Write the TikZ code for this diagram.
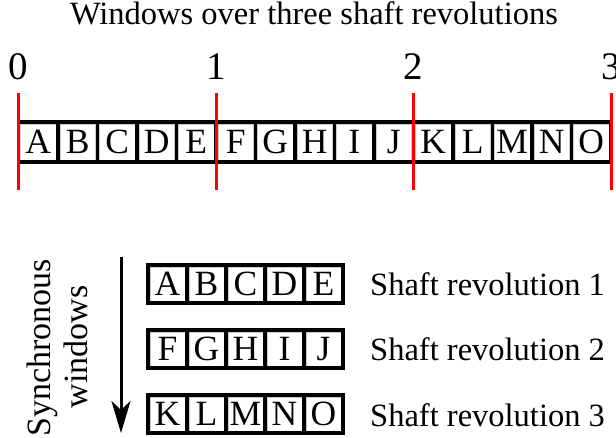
\documentclass[tikz,border=0pt]{standalone}
\usepackage{fontspec}
\setmainfont{Liberation Serif}
\usetikzlibrary{arrows.meta}
\begin{document}
\begin{tikzpicture}[x=1pt,y=-1pt,
  cell/.style={draw=black, line width=3.2pt, fill=white, inner sep=0pt,
    minimum width=39.5pt, minimum height=40pt, text height=23.6pt, text depth=0pt,
    font=\fontsize{35.5}{40}\selectfont,
    path picture={\draw[gray!40, line width=0.5pt]
      ([xshift=2.1pt,yshift=-2.1pt]path picture bounding box.north west) rectangle
      ([xshift=-2.1pt,yshift=2.1pt]path picture bounding box.south east);}},
  smallcell/.style={cell, minimum width=39pt, minimum height=38pt},
  redline/.style={draw=red, line width=3pt},
  digit/.style={font=\fontsize{39}{44}\selectfont, inner sep=0pt, anchor=base},
  txt/.style={font=\fontsize{32.5}{40}\selectfont, inner sep=0pt},
  vtxt/.style={font=\fontsize{34}{40}\selectfont, inner sep=0pt, rotate=90, anchor=base},
  arr/.style={line width=3pt, -{Stealth[length=32pt, width=19pt, inset=9pt]}}
]
\useasboundingbox (0,0) rectangle (616,438);

% title
\node[txt, anchor=base] (title) at (314,25) {Windows over three shaft revolutions};

% top row of cells
\foreach \L [count=\i from 0] in {A,B,C,D,E,F,G,H,I,J,K,L,M,N,O} {
  \node[cell] (t\i) at ({18.5+19.75+39.5*\i},142) {\L};
}

% revolution markers
\foreach \k/\xx in {0/18.5,1/216,2/413.5,3/611} {
  \coordinate (m\k top) at (\xx,93);
  \coordinate (m\k bot) at (\xx,190);
  \draw[redline] (m\k top) -- (m\k bot);
  \node[digit] (d\k) at (\xx,79.5) {\k};
}

% synchronous windows
\foreach \row/\yy/\lst in {1/284/{A,B,C,D,E},2/349/{F,G,H,I,J},3/414/{K,L,M,N,O}} {
  \foreach \L [count=\j from 0] in \lst {
    \node[smallcell] (r\row c\j) at ({148+19.5+39*\j},\yy) {\L};
  }
  \node[txt, anchor=base west] (lab\row) at (370,\yy+12) {Shaft revolution \row};
}

% arrow
\coordinate (arrS) at (121,257);
\coordinate (arrE) at (121,433);
\draw[arr] (arrS) -- (arrE);

% rotated label
\node[vtxt] (sync) at (50,348) {Synchronous};
\node[vtxt] (wind) at (87,347) {windows};
\end{tikzpicture}
\end{document}
